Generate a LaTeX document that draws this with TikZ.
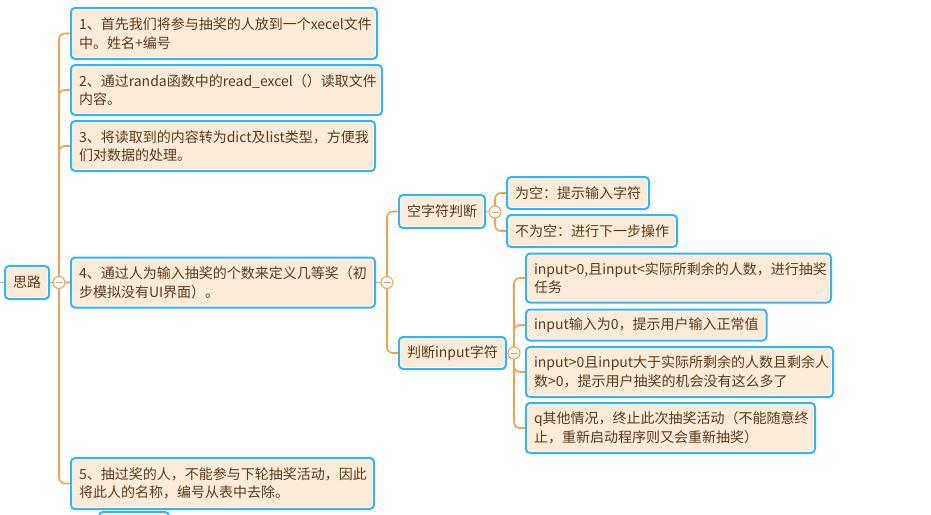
\documentclass[tikz,border=0pt]{standalone}
\usepackage{fontspec}
\setmainfont{Noto Sans CJK SC}
\usetikzlibrary{backgrounds}
\definecolor{topicblue}{HTML}{33B5F5}
\definecolor{topicfill}{HTML}{FDEBDA}
\definecolor{topictext}{HTML}{5B3A1A}
\definecolor{branchorange}{HTML}{F5A04E}
\newcommand{\topicfont}{\fontsize{14}{18.5}\selectfont}

\begin{document}
\begin{tikzpicture}[x=1pt, y=-1pt,
	topic/.style={draw=topicblue, line width=2pt, fill=white, rounded corners=4pt,
		anchor=west, outer sep=0pt, inner xsep=8pt, inner ysep=0pt, align=left,
		text=topictext, font=\topicfont,
		path picture={\fill[topicfill, rounded corners=3pt]
			([shift={(2pt,2pt)}]path picture bounding box.south west) rectangle
			([shift={(-2pt,-2pt)}]path picture bounding box.north east);}},
	fold/.style={circle, draw=branchorange, fill=white, line width=1pt,
		minimum size=12pt, inner sep=0pt,
		path picture={\draw[branchorange, line width=1pt]
			([xshift=-3.5pt]path picture bounding box.center) --
			([xshift=3.5pt]path picture bounding box.center);}},
	branch/.style={draw=branchorange, line width=1.6pt, rounded corners=6pt},
	link/.style={draw=branchorange, line width=1pt}]
	\path[use as bounding box] (0,0) rectangle (931,514);
	\clip (0,0) rectangle (931,514);

	\node[topic, minimum height=33pt] (root) at (5,282.5) {思路};
	\node[fold] (fold0) at (59,282.5) {};

	\node[topic, text width=290pt, minimum height=51pt] (b1) at (71,33.5)
		{1、首先我们将参与抽奖的人放到一个xecel文件\\中。姓名+编号};
	\node[topic, text width=295pt, minimum height=50pt] (b2) at (71,90)
		{2、通过randa函数中的read\_excel（）读取文件\\内容。};
	\node[topic, text width=288pt, minimum height=50pt] (b3) at (71,146)
		{3、将读取到的内容转为dict及list类型，方便我\\们对数据的处理。};
	\node[topic, text width=288pt, minimum height=50pt] (b4) at (71,282.5)
		{4、通过人为输入抽奖的个数来定义几等奖（初\\步模拟没有UI界面）。};
	\node[topic, text width=287pt, minimum height=51pt] (b5) at (71,483.5)
		{5、抽过奖的人，不能参与下轮抽奖活动，因此\\将此人的名称，编号从表中去除。};
	\node[topic, anchor=north west, minimum width=70pt, minimum height=30pt] (b6) at (99,512) {};

	\node[fold] (fold4) at (387,282.5) {};
	\node[topic, minimum height=33pt] (s1) at (399,211.5) {空字符判断};
	\node[topic, minimum height=32pt] (s2) at (399,353) {判断input字符};

	\node[fold] (fold1) at (495,212) {};
	\node[topic, minimum height=32pt] (e1) at (507,193) {为空：提示输入字符};
	\node[topic, minimum height=32pt] (e2) at (507,231) {不为空：进行下一步操作};

	\node[fold] (fold2) at (514,353) {};
	\node[topic, text width=289pt, minimum height=49pt] (i1) at (526,278)
		{input>0,且input<实际所剩余的人数，进行抽奖\\任务};
	\node[topic, minimum height=31pt] (i2) at (526,325)
		{input输入为0，提示用户输入正常值};
	\node[topic, text width=291pt, minimum height=50pt] (i3) at (526,372)
		{input>0且input大于实际所剩余的人数且剩余人\\数>0，提示用户抽奖的机会没有这么多了};
	\node[topic, text width=273pt, minimum height=50pt] (i4) at (526,428)
		{q其他情况，终止此次抽奖活动（不能随意终\\止，重新启动程序则又会重新抽奖）};

	\coordinate (in) at (0,282.5);

	\begin{scope}[on background layer]
		\fill[white] (0,0) rectangle (931,514);
		\draw[link] (in) -- (root);
		\draw[link] (root) -- (fold0);
		\foreach \t in {b1,b2,b3,b4,b5}
			\draw[branch] (fold0.center) |- (\t.west);
		\draw[link] (b4) -- (fold4);
		\foreach \t in {s1,s2}
			\draw[branch] (fold4.center) |- (\t.west);
		\draw[link] (s1) -- (fold1);
		\foreach \t in {e1,e2}
			\draw[branch] (fold1.center) |- (\t.west);
		\draw[link] (s2) -- (fold2);
		\foreach \t in {i1,i2,i3,i4}
			\draw[branch] (fold2.center) |- (\t.west);
	\end{scope}
\end{tikzpicture}
\end{document}
